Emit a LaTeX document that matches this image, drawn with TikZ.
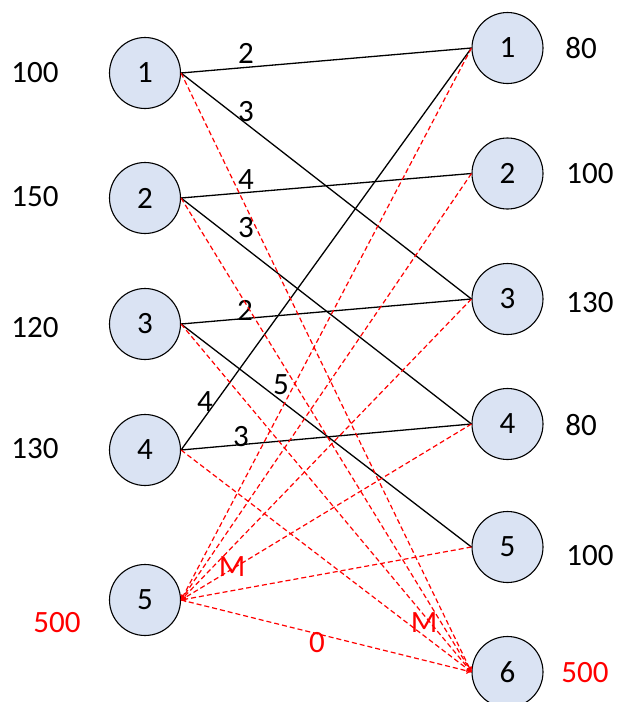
\documentclass[tikz,border=0pt]{standalone}
\usepackage{fontspec}
\setmainfont{Carlito}
\usepackage{tikz}
\usetikzlibrary{positioning,arrows.meta}
\definecolor{nodeblue}{RGB}{218,227,243}

\begin{document}
\begin{tikzpicture}[x=0.5pt,y=-0.5pt,
		vertex/.style={circle,draw=black,line width=0.55pt,fill=nodeblue,minimum size=35.5pt,inner sep=0pt,font=\fontsize{15.5}{18}\selectfont},
		lbl/.style={font=\fontsize{15.5}{18}\selectfont,inner sep=0pt},
		arc/.style={black,line width=0.65pt},
		dummy/.style={red,line width=0.6pt,dash pattern=on 2.5pt off 1.5pt,-{To[length=2.5pt,width=3pt]}}]
				\useasboundingbox (0,0) rectangle (617,702);
				% sources
				\node[vertex] (s1) at (145,73) {1};
				\node[vertex] (s2) at (145,198) {2};
				\node[vertex] (s3) at (145,324) {3};
				\node[vertex] (s4) at (145,450) {4};
				\node[vertex] (s5) at (145,600) {5};
				% sinks
				\node[vertex] (t1) at (507.5,48) {1};
				\node[vertex] (t2) at (507.5,173.5) {2};
				\node[vertex] (t3) at (507.5,299) {3};
				\node[vertex] (t4) at (507.5,424) {4};
				\node[vertex] (t5) at (507.5,547) {5};
				\node[vertex] (t6) at (507.5,672) {6};
				% supplies and demands
				\node[lbl] (a1) at (35,73) {100};
				\node[lbl] (a2) at (35,197) {150};
				\node[lbl] (a3) at (35,328) {120};
				\node[lbl] (a4) at (35,449) {130};
				\node[lbl,red] (a5) at (57,623) {500};
				\node[lbl] (b1) at (581,48) {80};
				\node[lbl] (b2) at (590,174) {100};
				\node[lbl] (b3) at (590,303) {130};
				\node[lbl] (b4) at (581,425) {80};
				\node[lbl] (b5) at (590,556) {100};
				\node[lbl,red] (b6) at (585,673) {500};
				% real routes
				\draw[arc] (s1.east) -- (t1.west);
				\draw[arc] (s1.east) -- (t3.west);
				\draw[arc] (s2.east) -- (t2.west);
				\draw[arc] (s2.east) -- (t4.west);
				\draw[arc] (s3.east) -- (t3.west);
				\draw[arc] (s3.east) -- (t5.west);
				\draw[arc] (s4.east) -- (t1.west);
				\draw[arc] (s4.east) -- (t4.west);
				\node[lbl] (c11) at (246,53) {2};
				\node[lbl] (c13) at (246,112) {3};
				\node[lbl] (c22) at (246,180) {4};
				\node[lbl] (c24) at (246,228) {3};
				\node[lbl] (c33) at (245,310) {2};
				\node[lbl] (c35) at (281,385) {5};
				\node[lbl] (c41) at (205,402) {4};
				\node[lbl] (c44) at (241,437) {3};
				% dummy routes
				\draw[dummy] (t1.west) -- (s5.east);
				\draw[dummy] (t2.west) -- (s5.east);
				\draw[dummy] (t3.west) -- (s5.east);
				\draw[dummy] (t4.west) -- (s5.east);
				\draw[dummy] (t5.west) -- (s5.east);
				\draw[dummy] (s1.east) -- (t6.west);
				\draw[dummy] (s2.east) -- (t6.west);
				\draw[dummy] (s3.east) -- (t6.west);
				\draw[dummy] (s4.east) -- (t6.west);
				\draw[dummy] (s5.east) -- (t6.west);
				\node[lbl,red] (m5) at (232,567) {M};
				\node[lbl,red] (m6) at (424,623) {M};
				\node[lbl,red] (c56) at (317,643) {0};
			\end{tikzpicture}
\end{document}
